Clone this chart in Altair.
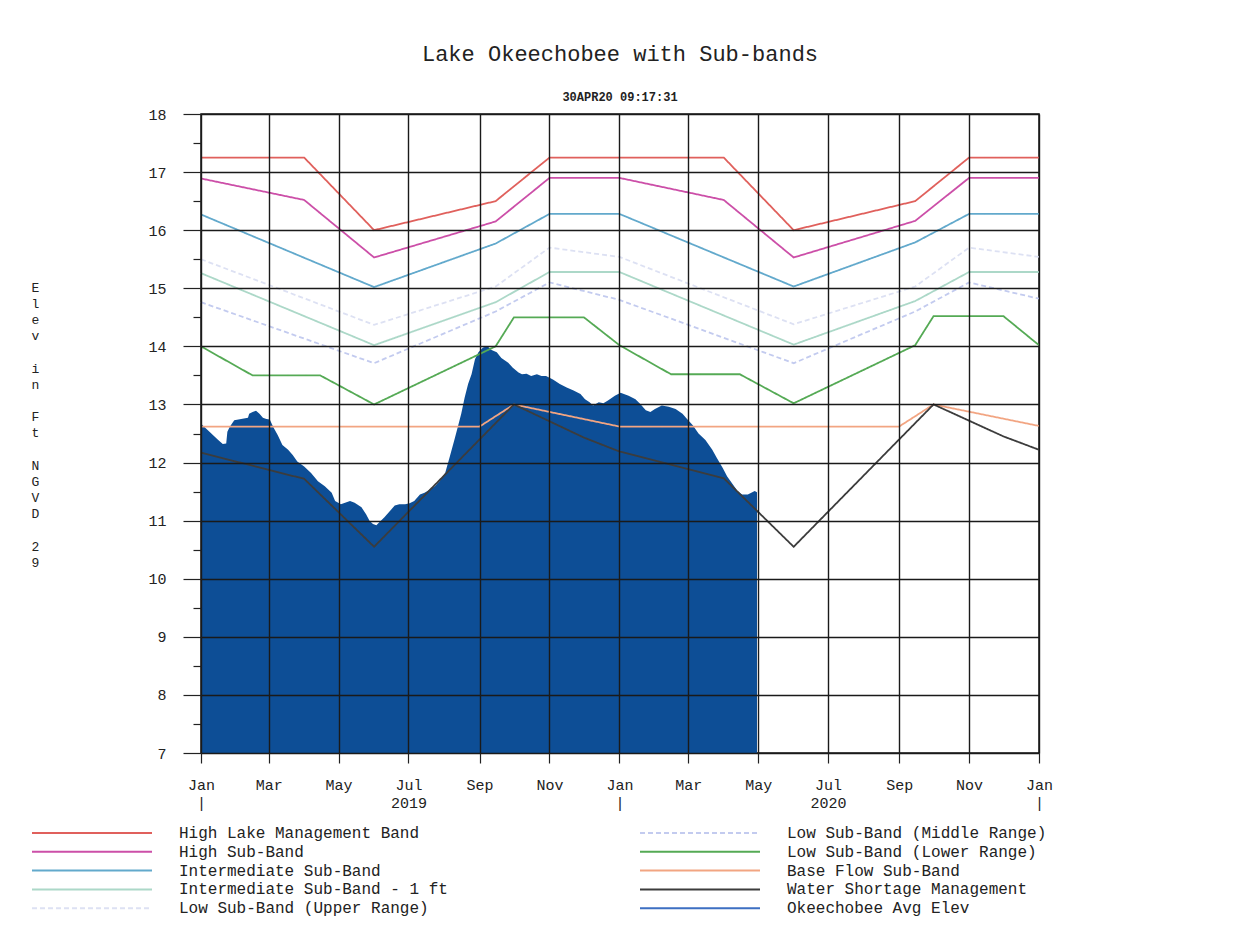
import altair as alt
import pandas as pd

# ---------------- data ----------------
okee_dates = [
    "2019-01-01", "2019-01-04", "2019-01-10", "2019-01-16", "2019-01-20", "2019-01-23",
    "2019-01-24", "2019-01-26", "2019-01-30", "2019-02-05", "2019-02-11", "2019-02-12",
    "2019-02-15", "2019-02-18", "2019-02-21", "2019-02-24", "2019-02-27", "2019-03-02",
    "2019-03-05", "2019-03-09", "2019-03-13", "2019-03-18", "2019-03-22", "2019-03-26",
    "2019-04-01", "2019-04-07", "2019-04-13", "2019-04-19", "2019-04-25", "2019-04-28",
    "2019-05-03", "2019-05-11", "2019-05-15", "2019-05-21", "2019-05-25", "2019-05-28",
    "2019-05-31", "2019-06-03", "2019-06-06", "2019-06-10", "2019-06-15", "2019-06-19",
    "2019-06-23", "2019-06-28", "2019-07-02", "2019-07-06", "2019-07-11", "2019-07-15",
    "2019-07-20", "2019-07-24", "2019-07-28", "2019-08-02", "2019-08-06", "2019-08-10",
    "2019-08-13", "2019-08-16", "2019-08-19", "2019-08-22", "2019-08-25", "2019-08-28",
    "2019-08-31", "2019-09-04", "2019-09-08", "2019-09-11", "2019-09-16", "2019-09-20",
    "2019-09-26", "2019-09-30", "2019-10-05", "2019-10-08", "2019-10-12", "2019-10-16",
    "2019-10-21", "2019-10-25", "2019-10-29", "2019-11-04", "2019-11-10", "2019-11-16",
    "2019-11-22", "2019-11-28", "2019-12-02", "2019-12-06", "2019-12-09", "2019-12-14",
    "2019-12-18", "2019-12-22", "2019-12-28", "2020-01-02", "2020-01-09", "2020-01-15",
    "2020-01-19", "2020-01-24", "2020-01-28", "2020-02-01", "2020-02-07", "2020-02-13",
    "2020-02-19", "2020-02-25", "2020-02-29", "2020-03-05", "2020-03-10", "2020-03-16",
    "2020-03-22", "2020-03-26", "2020-03-31", "2020-04-04", "2020-04-09", "2020-04-13",
    "2020-04-17", "2020-04-22", "2020-04-25", "2020-04-28", "2020-04-30",
]
okee_elev = [
    12.67, 12.61, 12.50, 12.39, 12.32, 12.33,
    12.53, 12.61, 12.73, 12.75, 12.77, 12.84,
    12.87, 12.89, 12.84, 12.77, 12.75, 12.74,
    12.61, 12.47, 12.30, 12.22, 12.13, 12.02,
    11.93, 11.82, 11.68, 11.59, 11.48, 11.34,
    11.28, 11.34, 11.31, 11.23, 11.11, 11.00,
    10.94, 10.92, 10.98, 11.06, 11.17, 11.26,
    11.28, 11.28, 11.30, 11.34, 11.45, 11.48,
    11.54, 11.59, 11.68, 11.82, 12.10, 12.39,
    12.61, 12.84, 13.12, 13.35, 13.52, 13.78,
    13.90, 13.98, 14.00, 13.94, 13.90, 13.80,
    13.72, 13.63, 13.55, 13.52, 13.53, 13.49,
    13.52, 13.49, 13.49, 13.43, 13.35, 13.29,
    13.24, 13.18, 13.09, 13.04, 12.98, 13.04,
    13.02, 13.07, 13.15, 13.20, 13.15, 13.09,
    13.01, 12.90, 12.87, 12.92, 12.98, 12.96,
    12.92, 12.84, 12.75, 12.64, 12.50, 12.39,
    12.22, 12.08, 11.91, 11.76, 11.62, 11.51,
    11.45, 11.45, 11.48, 11.51, 11.49,
]

hlmb_dates = ["2019-01-01", "2019-04-01", "2019-06-01", "2019-09-15", "2019-11-01",
              "2020-04-01", "2020-06-01", "2020-09-15", "2020-11-01", "2021-01-01"]
hlmb_vals = [17.25, 17.25, 16.0, 16.5, 17.25, 17.25, 16.0, 16.5, 17.25, 17.25]

hsb_dates = ["2019-01-01", "2019-04-01", "2019-06-01", "2019-09-15", "2019-11-01",
             "2020-01-01", "2020-04-01", "2020-06-01", "2020-09-15", "2020-11-01", "2021-01-01"]
hsb_vals = [16.89, 16.52, 15.53, 16.15, 16.9, 16.9, 16.52, 15.53, 16.16, 16.9, 16.9]

isb_dates = ["2019-01-01", "2019-06-01", "2019-09-15", "2019-11-01", "2020-01-01",
             "2020-06-01", "2020-09-15", "2020-11-01", "2021-01-01"]
isb_vals = [16.27, 15.02, 15.77, 16.28, 16.28, 15.03, 15.79, 16.28, 16.28]

isb1_dates = ["2019-01-01", "2019-06-01", "2019-09-15", "2019-11-01", "2020-01-01",
              "2020-06-01", "2020-09-15", "2020-11-01", "2021-01-01"]
isb1_vals = [15.26, 14.02, 14.76, 15.28, 15.28, 14.03, 14.78, 15.28, 15.28]

lsb_up_dates = ["2019-01-01", "2019-06-01", "2019-09-15", "2019-11-01", "2020-01-01",
                "2020-06-01", "2020-09-15", "2020-11-01", "2021-01-01"]
lsb_up_vals = [15.5, 14.37, 15.03, 15.7, 15.54, 14.38, 15.03, 15.7, 15.54]

lsb_mid_dates = ["2019-01-01", "2019-06-01", "2019-09-15", "2019-11-01", "2020-01-01",
                 "2020-06-01", "2020-09-15", "2020-11-01", "2021-01-01"]
lsb_mid_vals = [14.76, 13.71, 14.6, 15.1, 14.8, 13.71, 14.6, 15.1, 14.82]

lsb_low_dates = ["2019-01-01", "2019-02-15", "2019-04-15", "2019-06-01", "2019-09-15",
                 "2019-10-01", "2019-12-01", "2020-01-01", "2020-02-15", "2020-04-15",
                 "2020-06-01", "2020-09-15", "2020-10-01", "2020-12-01", "2021-01-01"]
lsb_low_vals = [14.0, 13.5, 13.5, 13.0, 14.0, 14.5, 14.5, 14.02, 13.52, 13.52,
                13.02, 14.02, 14.52, 14.52, 14.02]

base_dates = ["2019-01-01", "2019-09-01", "2019-10-01", "2020-01-01", "2020-09-01",
              "2020-10-01", "2021-01-01"]
base_vals = [12.62, 12.62, 13.0, 12.62, 12.62, 13.0, 12.63]

wsm_dates = ["2019-01-01", "2019-04-01", "2019-06-01", "2019-10-01", "2019-12-01",
             "2020-01-01", "2020-04-01", "2020-06-01", "2020-10-01", "2020-12-01", "2021-01-01"]
wsm_vals = [12.17, 11.72, 10.55, 13.0, 12.43, 12.19, 11.73, 10.55, 13.0, 12.45, 12.22]

series_names = [
    "High Lake Management Band", "High Sub-Band", "Intermediate Sub-Band",
    "Intermediate Sub-Band - 1 ft", "Low Sub-Band (Upper Range)",
    "Low Sub-Band (Middle Range)", "Low Sub-Band (Lower Range)",
    "Base Flow Sub-Band", "Water Shortage Management", "Okeechobee Avg Elev",
]
series_colors = [
    "#e0605c", "#cc4fa8", "#62a9cc", "#acd8c8", "#dde1f3",
    "#c3cbef", "#55aa55", "#f2a582", "#3c3c3c", "#3d6fc2",
]
series_dash = [[1, 0], [1, 0], [1, 0], [1, 0], [5, 3], [5, 3], [1, 0], [1, 0], [1, 0], [1, 0]]

x_ticks = [(2019, 1), (2019, 3), (2019, 5), (2019, 7), (2019, 9), (2019, 11),
           (2020, 1), (2020, 3), (2020, 5), (2020, 7), (2020, 9), (2020, 11), (2021, 1)]

title_text = "Lake Okeechobee with Sub-bands"
subtitle_text = "30APR20  09:17:31"
# vertical, letter-per-line axis title; word gaps are blank (braille-blank) lines
BL = "\u2800"
y_title = ["E", "l", "e", "v", BL, "i", "n", BL, "F", "t", BL,
           "N", "G", "V", "D", BL, "2", "9"]

# ---------------- tables ----------------
band_inputs = [
    (series_names[0], hlmb_dates, hlmb_vals),
    (series_names[1], hsb_dates, hsb_vals),
    (series_names[2], isb_dates, isb_vals),
    (series_names[3], isb1_dates, isb1_vals),
    (series_names[4], lsb_up_dates, lsb_up_vals),
    (series_names[5], lsb_mid_dates, lsb_mid_vals),
    (series_names[6], lsb_low_dates, lsb_low_vals),
    (series_names[7], base_dates, base_vals),
    (series_names[8], wsm_dates, wsm_vals),
]
rows = []
for name, ds, vs in band_inputs:
    for d, v in zip(ds, vs):
        rows.append({"series": name, "date": d, "value": v})
bands = pd.DataFrame(rows)
okee = pd.DataFrame({"date": okee_dates, "value": okee_elev})

MONO = "Liberation Mono"

x_scale = alt.Scale(type="utc",
                    domain=[alt.DateTime(year=2019, month=1, date=1, utc=True),
                            alt.DateTime(year=2021, month=1, date=1, utc=True)])
x_axis = alt.Axis(
    values=[alt.DateTime(year=y, month=m, date=1, utc=True) for y, m in x_ticks],
    labelExpr="utcmonth(datum.value) == 6 ? ['Jul', '' + utcyear(datum.value)] : "
              "(utcmonth(datum.value) == 0 ? ['Jan', '|'] : utcFormat(datum.value, '%b'))",
    labelFont=MONO, labelFontSize=15, labelColor="#222", labelLineHeight=18,
    labelPadding=14, tickSize=10, tickColor="#222", tickWidth=1.2,
    domain=False, grid=True, gridColor="#1a1a1a", gridWidth=1.4, zindex=1, title=None,
    labelFlush=False, labelOverlap=False,
)
y_axis = alt.Axis(
    values=[v / 2 for v in range(14, 37)],
    labelExpr="datum.value % 1 === 0 ? datum.value : ''",
    labelFont=MONO, labelFontSize=15, labelColor="#222", labelPadding=17,
    tickSize={"condition": {"test": "datum.value % 1 === 0", "value": 18}, "value": 8},
    tickColor="#222", tickWidth=1.2,
    gridOpacity={"condition": {"test": "datum.value % 1 === 0", "value": 1}, "value": 0},
    domain=False, grid=True, gridColor="#1a1a1a", gridWidth=1.4, zindex=1,
    title=y_title, titleAngle=0, titleFont=MONO, titleFontSize=13, titleFontWeight="normal",
    titleColor="#222", titleLineHeight=16.2, titleX=-166, titleY=167, titleAlign="center",
    titleBaseline="top", labelOverlap=False,
)
y_scale = alt.Scale(domain=[7, 18], nice=False, zero=False)

legend = alt.Legend(
    title=None, orient="none", legendX=-117, legendY=711,
    columns=2, columnPadding=188, rowPadding=2.8,
    symbolType="M-12,0H12", symbolSize=100, symbolStrokeWidth=2,
    labelFont=MONO, labelFontSize=16, labelColor="#222",
    labelOffset=79, labelLimit=600,
)

area = alt.Chart(okee).mark_area(color="#0d4e96", opacity=1, interpolate="linear").encode(
    x=alt.X("date:T", scale=x_scale, axis=x_axis),
    y=alt.Y("value:Q", scale=y_scale, axis=y_axis),
    y2=alt.datum(7),
)

lines = alt.Chart(bands).mark_line(strokeWidth=1.8, interpolate="linear").encode(
    x=alt.X("date:T", scale=x_scale, axis=x_axis),
    y=alt.Y("value:Q", scale=y_scale, axis=y_axis),
    color=alt.Color("series:N", scale=alt.Scale(domain=series_names, range=series_colors),
                    legend=legend),
    strokeDash=alt.StrokeDash("series:N", scale=alt.Scale(domain=series_names, range=series_dash),
                              legend=None),
    detail="series:N",
)

chart = alt.layer(area, lines).properties(
    width=838, height=639,
    padding={"left": 193, "top": 106, "right": 40, "bottom": 170},
    autosize=alt.AutoSizeParams(type="none"),
    title=alt.Title(title_text, subtitle=subtitle_text, anchor="middle", frame="group",
                    font=MONO, fontSize=22, fontWeight="normal", color="#222",
                    subtitleFont=MONO, subtitleFontSize=12, subtitleFontWeight="bold",
                    subtitleColor="#222", subtitlePadding=26, offset=3),
    background="white",
).configure_view(stroke="#111", strokeWidth=1.5)

chart.save("out.html", embed_options={"renderer": "svg", "actions": False})
